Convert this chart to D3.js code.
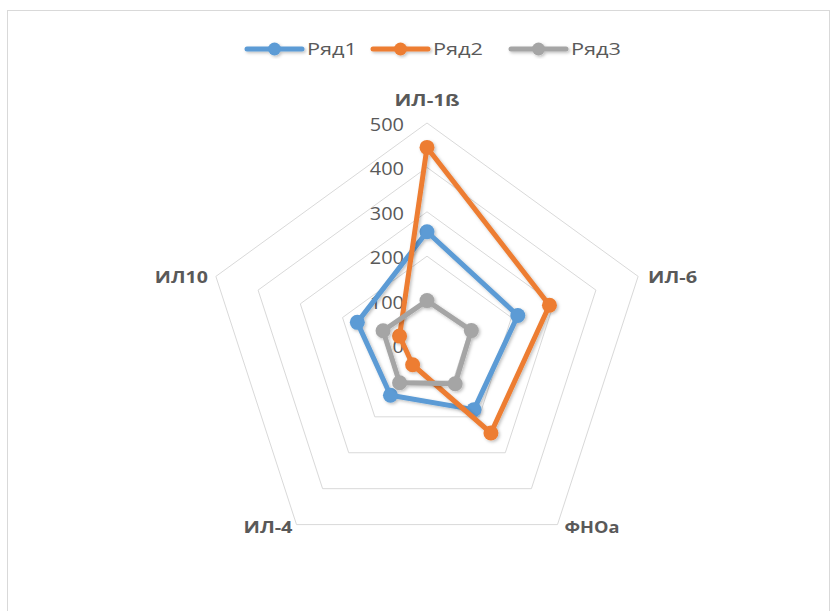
<!DOCTYPE html>
<html><head><meta charset="utf-8">
<script src="https://cdn.jsdelivr.net/npm/d3@7"></script>
<style>body{margin:0;background:#fff;} svg{display:block;}</style>
</head><body>
<svg id="c" width="838" height="611"></svg>
<script>
const categories = ["ИЛ-1ß", "ИЛ-6", "ФНОа", "ИЛ-4", "ИЛ10"];
const seriesNames = ["Ряд1", "Ряд2", "Ряд3"];
const ryad1 = [255, 215, 180, 140, 165];
const ryad2 = [445, 290, 245, 55, 65];
const ryad3 = [100, 105, 108, 105, 104];
const tickValues = [0, 100, 200, 300, 400, 500];
const colors = ["#5B9BD5", "#ED7D31", "#A5A5A5"];

const svg = d3.select("#c");
const cx = 427, cy = 345, R = 222;
const r = d3.scaleLinear().domain([0, 500]).range([0, R]);
const ang = d3.scalePoint().domain(categories).range([0, 2*Math.PI*4/5]);
const pt = (cat, v) => { const a = ang(cat); return [cx + r(v)*Math.sin(a), cy - r(v)*Math.cos(a)]; };

// frame
svg.append("rect").attr("x", 7.5).attr("y", 10.5).attr("width", 822).attr("height", 620)
  .attr("fill", "#fff").attr("stroke", "#d9d9d9").attr("stroke-width", 1);

const defs = svg.append("defs");
const f = defs.append("filter").attr("id", "sh").attr("x", "-20%").attr("y", "-20%").attr("width", "140%").attr("height", "140%");
f.append("feDropShadow").attr("dx", 1.5).attr("dy", 1.5).attr("stdDeviation", 1.5).attr("flood-color", "#000").attr("flood-opacity", 0.25);

// grid
const grid = svg.append("g");
tickValues.slice(1).forEach(t => {
  grid.append("polygon").attr("points", categories.map(c => pt(c, t).join(",")).join(" "))
    .attr("fill", "none").attr("stroke", "#d9d9d9").attr("stroke-width", 1);
});

// tick labels
svg.append("g").selectAll("text").data(tickValues).join("text")
  .attr("x", cx - 23).attr("y", d => cy - r(d) + 8)
  .attr("text-anchor", "end").attr("font-family", "Open Sans, sans-serif")
  .attr("font-size", 19).attr("fill", "#595959")
  .attr("textLength", d => String(d).length * 11.4).attr("lengthAdjust", "spacingAndGlyphs")
  .text(d => d);

// category labels
const labelPos = {
  "ИЛ-1ß": {dx: 0, dy: -17, anchor: "middle", w: 65},
  "ИЛ-6": {dx: 10, dy: 7, anchor: "start", w: 49},
  "ФНОа": {dx: 7, dy: 8, anchor: "start", w: 55},
  "ИЛ-4": {dx: -4, dy: 8, anchor: "end", w: 49},
  "ИЛ10": {dx: -8, dy: 7, anchor: "end", w: 53}
};
svg.append("g").selectAll("text").data(categories).join("text")
  .attr("x", d => pt(d, 500)[0] + labelPos[d].dx)
  .attr("y", d => pt(d, 500)[1] + labelPos[d].dy)
  .attr("text-anchor", d => labelPos[d].anchor)
  .attr("font-family", "Open Sans, sans-serif").attr("font-weight", "bold")
  .attr("font-size", 16).attr("fill", "#595959")
  .attr("textLength", d => labelPos[d].w).attr("lengthAdjust", "spacingAndGlyphs")
  .text(d => d);

// series
const data = [ryad1, ryad2, ryad3];
const line = d3.line().curve(d3.curveLinearClosed);
data.forEach((vals, i) => {
  const g = svg.append("g").attr("filter", "url(#sh)");
  const pts = categories.map((c, j) => pt(c, vals[j]));
  g.append("path").attr("d", line(pts)).attr("fill", "none")
    .attr("stroke", colors[i]).attr("stroke-width", 5).attr("stroke-linejoin", "round");
  g.selectAll("circle").data(pts).join("circle")
    .attr("cx", d => d[0]).attr("cy", d => d[1]).attr("r", 7.5).attr("fill", colors[i]);
});

// legend
const legX = [247, 373, 511];
const leg = svg.append("g");
seriesNames.forEach((n, i) => {
  const x = legX[i], y = 49;
  const g = leg.append("g").attr("filter", "url(#sh)");
  g.append("line").attr("x1", x).attr("x2", x + 55).attr("y1", y).attr("y2", y)
    .attr("stroke", colors[i]).attr("stroke-width", 5).attr("stroke-linecap", "round");
  g.append("circle").attr("cx", x + 27.5).attr("cy", y).attr("r", 6.5).attr("fill", colors[i]);
  leg.append("text").attr("x", x + 60).attr("y", y + 6).attr("font-family", "Open Sans, sans-serif")
    .attr("font-size", 17).attr("fill", "#595959")
    .attr("textLength", 50).attr("lengthAdjust", "spacingAndGlyphs").text(n);
});
</script>
</body></html>
